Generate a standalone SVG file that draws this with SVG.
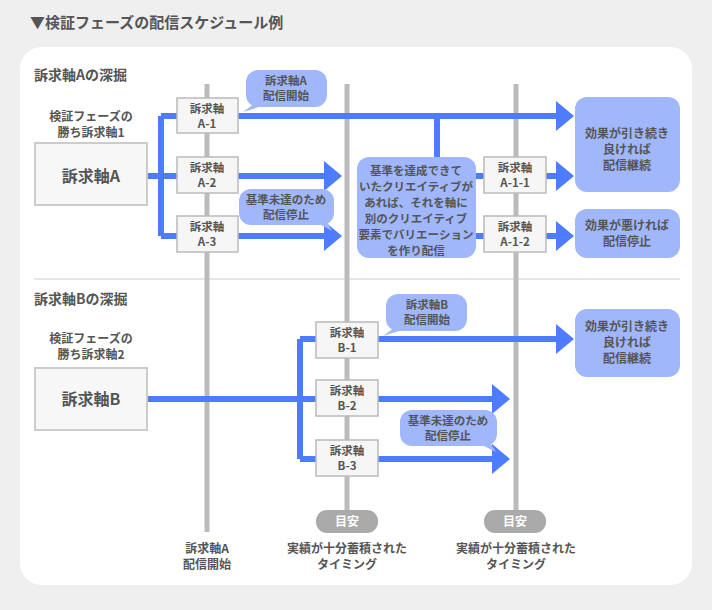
<svg xmlns="http://www.w3.org/2000/svg" width="712" height="610" viewBox="0 0 712 610">
<defs>
<style>
text{font-family:"Noto Sans CJK JP","Noto Sans",sans-serif;font-weight:bold;fill:#555;text-anchor:middle}
.t{font-size:12px}
.s{font-size:11.5px}
.h{font-size:14px;text-anchor:start}
.vl{stroke:#bbb;stroke-width:5}
.c{stroke:#4d7cfe;stroke-width:6;fill:none}
.n{fill:#f6f6f6;stroke:#bbb;stroke-width:1.5}
.b{fill:#a0b7fb}
.thumb{fill:#f7f7f7;stroke:#ccc;stroke-width:2}
</style>
<marker id="ar" markerWidth="4" markerHeight="5" refX="1" refY="2.5" orient="auto" markerUnits="strokeWidth"><path d="M0,0L3,2.5L0,5z" fill="#4d7cfe"/></marker>
</defs>
<rect width="712" height="610" fill="#efefef"/>
<text x="30" y="28" class="h" style="font-size:15px">▼検証フェーズの配信スケジュール例</text>
<rect x="20" y="47" width="672" height="538" rx="22" fill="#fff"/>
<line x1="34" y1="279" x2="680" y2="279" stroke="#ccc" stroke-width="1"/>
<text x="34" y="80" class="h">訴求軸Aの深掘</text>
<text x="34" y="304" class="h">訴求軸Bの深掘</text>
<g id="timelines">
<line class="vl" x1="207" y1="84" x2="207" y2="532"/>
<line class="vl" x1="347" y1="84" x2="347" y2="510"/>
<line class="vl" x1="516" y1="84" x2="516" y2="510"/>
</g>
<g id="connectors">
<path class="c" d="M147,176H161M161,116V236M161,116H180M161,176H180M161,236H180"/>
<path class="c" d="M238,116H562" marker-end="url(#ar)"/>
<path class="c" d="M238,176H330" marker-end="url(#ar)"/>
<path class="c" d="M238,236H330" marker-end="url(#ar)"/>
<path class="c" d="M437,116V160"/>
<path class="c" d="M476,176H486M546,176H562" marker-end="url(#ar)"/>
<path class="c" d="M476,236H486M546,236H562" marker-end="url(#ar)"/>
<path class="c" d="M147,399H300M300,339V459M300,339H318M300,399H318M300,459H318"/>
<path class="c" d="M378,339H562" marker-end="url(#ar)"/>
<path class="c" d="M378,399H498" marker-end="url(#ar)"/>
<path class="c" d="M378,459H498" marker-end="url(#ar)"/>
</g>
<g id="srcA"><text x="91" y="121" class="t">検証フェーズの</text><text x="91" y="137" class="t">勝ち訴求軸1</text>
<rect class="thumb" x="35" y="143" width="112" height="62"/><text x="91" y="182" style="font-size:16px">訴求軸A</text></g>
<g id="A1"><rect class="n" x="177" y="98" width="61" height="35"/><text x="207" y="113" class="s">訴求軸</text><text x="207" y="128" class="s">A-1</text></g>
<g id="A2"><rect class="n" x="177" y="157" width="61" height="36"/><text x="207" y="172" class="s">訴求軸</text><text x="207" y="187" class="s">A-2</text></g>
<g id="A3"><rect class="n" x="177" y="216" width="61" height="36"/><text x="207" y="231" class="s">訴求軸</text><text x="207" y="246" class="s">A-3</text></g>
<g id="center"><rect class="b" x="357" y="157" width="119" height="101" rx="12"/>
<text x="416" y="175" class="s">基準を達成できて</text><text x="416" y="191" class="s">いたクリエイティブが</text><text x="416" y="207" class="s">あれば、それを軸に</text><text x="416" y="223" class="s">別のクリエイティブ</text><text x="416" y="239" class="s">要素でバリエーション</text><text x="416" y="255" class="s">を作り配信</text></g>
<g id="A11"><rect class="n" x="484" y="157" width="62" height="36"/><text x="515" y="172" class="s">訴求軸</text><text x="515" y="187" class="s">A-1-1</text></g>
<g id="A12"><rect class="n" x="484" y="216" width="62" height="36"/><text x="515" y="231" class="s">訴求軸</text><text x="515" y="246" class="s">A-1-2</text></g>
<g id="contA"><rect class="b" x="575" y="97" width="105" height="95" rx="12"/><text x="627" y="138" class="t">効果が引き続き</text><text x="627" y="154" class="t">良ければ</text><text x="627" y="170" class="t">配信継続</text></g>
<g id="stopA"><rect class="b" x="575" y="209" width="105" height="49" rx="12"/><text x="627" y="230" class="t">効果が悪ければ</text><text x="627" y="246" class="t">配信停止</text></g>
<g id="callA1"><rect class="b" x="246" y="70" width="81" height="37" rx="12"/><path class="b" d="M254,104L243,112L262,106z"/><text x="286" y="85" class="s">訴求軸A</text><text x="286" y="100" class="s">配信開始</text></g>
<g id="callA3"><rect class="b" x="239" y="189" width="95" height="36" rx="12"/><path class="b" d="M316,222L332,231L326,220z"/><text x="286" y="204" class="s">基準未達のため</text><text x="286" y="219" class="s">配信停止</text></g>
<g id="srcB"><text x="91" y="343" class="t">検証フェーズの</text><text x="91" y="359" class="t">勝ち訴求軸2</text>
<rect class="thumb" x="35" y="368" width="112" height="62"/><text x="91" y="405" style="font-size:16px">訴求軸B</text></g>
<g id="B1"><rect class="n" x="316" y="322" width="62" height="36"/><text x="347" y="337" class="s">訴求軸</text><text x="347" y="352" class="s">B-1</text></g>
<g id="B2"><rect class="n" x="316" y="380" width="62" height="36"/><text x="347" y="395" class="s">訴求軸</text><text x="347" y="410" class="s">B-2</text></g>
<g id="B3"><rect class="n" x="316" y="440" width="62" height="36"/><text x="347" y="455" class="s">訴求軸</text><text x="347" y="470" class="s">B-3</text></g>
<g id="contB"><rect class="b" x="575" y="309" width="105" height="68" rx="12"/><text x="627" y="331" class="t">効果が引き続き</text><text x="627" y="347" class="t">良ければ</text><text x="627" y="363" class="t">配信継続</text></g>
<g id="callB1"><rect class="b" x="386" y="294" width="81" height="37" rx="12"/><path class="b" d="M394,328L383,336L402,330z"/><text x="427" y="309" class="s">訴求軸B</text><text x="427" y="324" class="s">配信開始</text></g>
<g id="callB3"><rect class="b" x="400" y="410" width="97" height="36" rx="12"/><path class="b" d="M478,443L496,452L489,441z"/><text x="448" y="425" class="s">基準未達のため</text><text x="448" y="440" class="s">配信停止</text></g>
<g id="pill1"><rect x="316" y="510" width="62" height="23" rx="11" fill="#aaa"/><text x="347" y="526" class="t" style="fill:#fff">目安</text></g>
<g id="pill2"><rect x="484" y="510" width="62" height="23" rx="11" fill="#aaa"/><text x="515" y="526" class="t" style="fill:#fff">目安</text></g>
<text x="207" y="553" class="t">訴求軸A</text><text x="207" y="569" class="t">配信開始</text>
<text x="347" y="553" class="t">実績が十分蓄積された</text><text x="347" y="569" class="t">タイミング</text>
<text x="516" y="553" class="t">実績が十分蓄積された</text><text x="516" y="569" class="t">タイミング</text>
</svg>
